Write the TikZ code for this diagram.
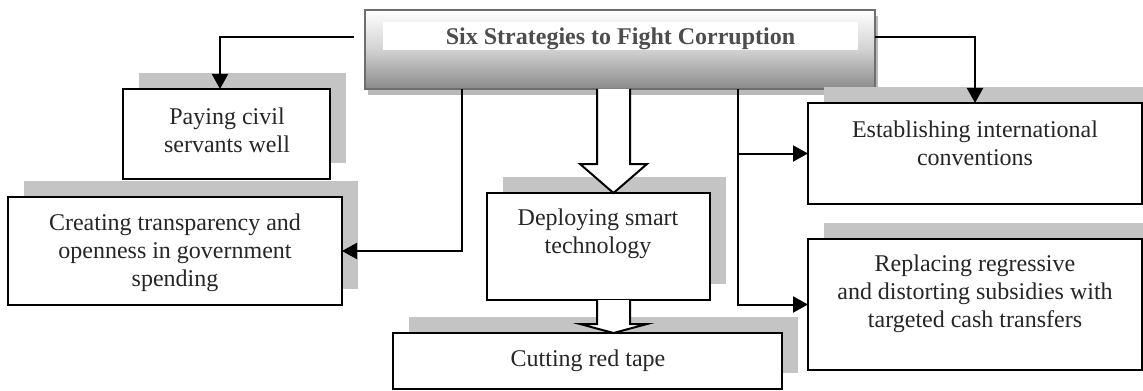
\documentclass[tikz,border=0pt]{standalone}
\usepackage{fontspec}
\setmainfont{Liberation Serif}
\usetikzlibrary{arrows.meta,calc,shadows}
\definecolor{shgray}{HTML}{C4C4C4}
\definecolor{rimgray}{HTML}{6E6E6E}
\definecolor{titlegray}{HTML}{4D4D4D}
\definecolor{shadelow}{HTML}{8A8A8A}
\definecolor{shademid}{HTML}{D2D2D2}
\begin{document}
\begin{tikzpicture}[x=0.5pt,y=-0.5pt,
  boxbase/.style={rectangle, draw=black, line width=1.2pt, fill=white,
    inner sep=0pt, outer sep=0pt},
  sbox/.style={boxbase, general shadow={fill=shgray, shadow xshift=8pt, shadow yshift=8pt}},
  txt/.style={align=center, inner sep=0pt, font=\fontsize{12pt}{14pt}\selectfont, text=black!85},
  link/.style={line width=1pt, -{Triangle[length=7.5pt,width=8pt]}},
  fat/.style={draw=black, fill=white, line width=1pt, line join=miter},
]
\useasboundingbox (0,0) rectangle (1143,390);

% heading box with shaded face and a white title band
\node[rectangle, draw=rimgray, line width=1pt, top color=white, bottom color=shadelow,
      middle color=shademid, inner sep=0pt, outer sep=0pt,
      minimum width=255pt, minimum height=39.5pt,
      general shadow={fill=gray!55, shadow xshift=1.5pt, shadow yshift=-3pt}]
      (title) at (620,49.5) {};
\fill[white] ($(title.north west)+(18,12)$) rectangle ($(title.north east)+(-17,40)$);
\node[txt, font=\fontsize{12pt}{14pt}\selectfont\bfseries, text=titlegray]
      (titleT) at ($(title.center)+(0.5,-10.5)$) {Six Strategies to Fight Corruption};

% the six strategy boxes
\node[sbox, minimum width=103.5pt, minimum height=45pt]   (paying)   at (226.5,134)   {};
\node[sbox, minimum width=167pt,   minimum height=54pt]   (creating) at (175,251)     {};
\node[sbox, minimum width=111.5pt, minimum height=53.5pt] (deploy)   at (598.5,246.5) {};
\node[sbox, minimum width=194.5pt, minimum height=28pt]   (cutting)  at (587.5,361)   {};
\node[sbox, minimum width=167pt,   minimum height=50.5pt] (estab)    at (975,153.5)   {};
\node[sbox, minimum width=167pt,   minimum height=65.5pt] (repl)     at (975,304.5)   {};

\node[txt] (payingT)   at ($(paying.center)+(0.5,-4)$)     {Paying civil\\servants well};
\node[txt] (creatingT) at ($(creating.center)+(0,2)$)      {Creating transparency and\\openness in government\\spending};
\node[txt] (deployT)   at ($(deploy.center)+(-0.5,-12.5)$) {Deploying smart\\technology};
\node[txt] (cuttingT)  at ($(cutting.center)+(0.5,0)$)     {Cutting red tape};
\node[txt] (estabT)    at ($(estab.center)+(0,-10)$)       {Establishing international\\conventions};
\node[txt] (replT)     at ($(repl.center)+(0,-11)$)        {Replacing regressive\\and distorting subsidies with\\targeted cash transfers};

% elbow connectors
\draw[link] ($(title.west)+(-11,-12.5)$) -| ($(paying.north)+(-6.5,0)$);
\draw[link] ($(title.east)+(0,-12.5)$) -| (estab.north);
\draw[link] ($(title.south)+(-158,0)$) |- (creating.east);
\coordinate (rb) at ($(title.south)+(118,0)$);
\draw[link] (rb) |- (estab.west);
\draw[link] (rb) |- (repl.west);

% hollow block arrows down the middle
\coordinate (ba) at ($(title.south)+(-6.5,0)$);
\coordinate (t1) at (ba |- deploy.north);
\draw[fat] ($(ba)+(-16.5,0)$) -- ($(t1)+(-16.5,-29)$) -- ($(t1)+(-33.5,-29)$) -- (t1)
  -- ($(t1)+(33.5,-29)$) -- ($(t1)+(16.5,-29)$) -- ($(ba)+(16.5,0)$);
\coordinate (b2) at (ba |- deploy.south);
\coordinate (t2) at (ba |- cutting.north);
\draw[fat] ($(b2)+(-16.5,0)$) -- ($(t2)+(-16.5,-9)$) -- ($(t2)+(-33.5,-9)$) -- (t2)
  -- ($(t2)+(33.5,-9)$) -- ($(t2)+(16.5,-9)$) -- ($(b2)+(16.5,0)$);
\end{tikzpicture}
\end{document}
